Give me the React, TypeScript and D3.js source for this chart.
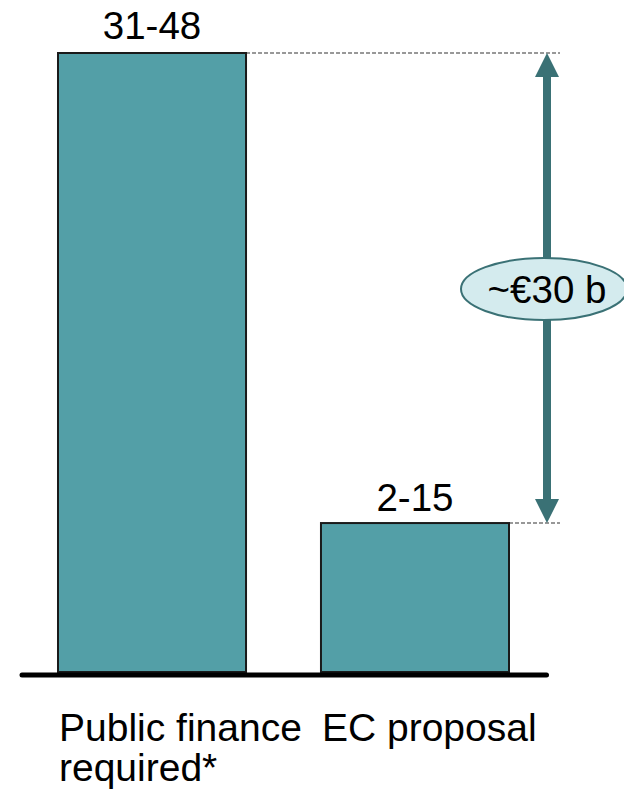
import React from "react";
import * as d3 from "d3";

const categories = ["Public finance required*", "EC proposal"];
const labelLines = [["Public finance", "required*"], ["EC proposal"]];
const rangeLabels = ["31-48", "2-15"];
const values = [48, 11.55];
const gapLabel = "~€30 b";

const W = 624;
const H = 794;
const FONT = "'Liberation Sans', Arial, Helvetica, sans-serif";
const BAR_FILL = "#539FA7";
const ARROW = "#3A7175";

export default function App() {
  const x = d3
    .scaleBand<string>()
    .domain(categories)
    .range([58, 509])
    .paddingInner(0.285)
    .paddingOuter(0);
  const y = d3.scaleLinear().domain([0, 48]).range([672, 53]);

  const ax = 547;
  const yTop = y(values[0]);
  const yBot = y(values[1]);
  const headH = 24;
  const headW = 12;
  const shaftW = 4;
  const arrowPath = [
    `M${ax},${yTop}`,
    `L${ax + headW},${yTop + headH}`,
    `L${ax + shaftW},${yTop + headH}`,
    `L${ax + shaftW},${yBot - headH}`,
    `L${ax + headW},${yBot - headH}`,
    `L${ax},${yBot}`,
    `L${ax - headW},${yBot - headH}`,
    `L${ax - shaftW},${yBot - headH}`,
    `L${ax - shaftW},${yTop + headH}`,
    `L${ax - headW},${yTop + headH}`,
    "Z",
  ].join(" ");
  const midY = (yTop + yBot) / 2;

  return (
    <svg
      width={W}
      height={H}
      style={{ position: "absolute", left: 0, top: 0, background: "#fff" }}
      fontFamily={FONT}
    >
      {/* dashed reference lines */}
      {categories.map((c, i) => (
        <line
          key={"d" + c}
          x1={(x(c) as number) + x.bandwidth()}
          x2={560}
          y1={y(values[i])}
          y2={y(values[i])}
          stroke="#777"
          strokeWidth={1.5}
          strokeDasharray="4,2"
        />
      ))}
      {/* bars */}
      {categories.map((c, i) => (
        <rect
          key={"b" + c}
          x={x(c) as number}
          y={y(values[i])}
          width={x.bandwidth()}
          height={y(0) - y(values[i])}
          fill={BAR_FILL}
          stroke="#1a1a1a"
          strokeWidth={2}
        />
      ))}
      {/* range labels */}
      {categories.map((c, i) => (
        <text
          key={"r" + c}
          x={(x(c) as number) + x.bandwidth() / 2}
          y={y(values[i]) - (i === 0 ? 14 : 12)}
          textAnchor="middle"
          fontSize={38.5}
          fill="#000"
        >
          {rangeLabels[i]}
        </text>
      ))}
      {/* baseline */}
      <line
        x1={22}
        x2={546.5}
        y1={675}
        y2={675}
        stroke="#000"
        strokeWidth={5}
        strokeLinecap="round"
      />
      {/* category labels */}
      {categories.map((c, i) => (
        <text key={"c" + c} x={(x(c) as number) + 1} y={741} fontSize={39} fill="#000">
          {labelLines[i].map((ln, j) => (
            <tspan key={j} x={(x(c) as number) + 1} dy={j === 0 ? 0 : 40}>
              {ln}
            </tspan>
          ))}
        </text>
      ))}
      {/* double arrow */}
      <path d={arrowPath} fill={ARROW} />
      {/* gap label */}
      <ellipse
        cx={544}
        cy={midY + 1}
        rx={83}
        ry={31}
        fill="#D4EBEE"
        stroke={ARROW}
        strokeWidth={2}
      />
      <text x={547} y={midY + 15} textAnchor="middle" fontSize={38.5} fill="#000">
        {gapLabel}
      </text>
    </svg>
  );
}
